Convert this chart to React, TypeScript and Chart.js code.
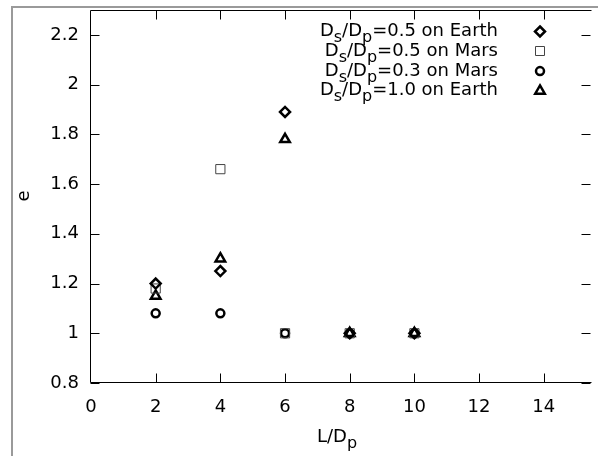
import React, { useEffect, useRef } from 'react';
import { Chart, registerables } from 'chart.js';

Chart.register(...registerables);

const xValues = [2, 4, 6, 8, 10];
const earth05 = [1.2, 1.25, 1.89, 1.0, 1.0];
const mars05 = [1.18, 1.66, 1.0, 1.0, 1.0];
const mars03 = [1.08, 1.08, 1.0, 1.0, 1.0];
const earth10 = [1.15, 1.3, 1.78, 1.0, 1.0];

const seriesSuffix = ['=0.5 on Earth', '=0.5 on Mars', '=0.3 on Mars', '=1.0 on Earth'];
const seriesMarker = ['rectRot', 'rect', 'circle', 'triangle'];

const xTicks = [0, 2, 4, 6, 8, 10, 12, 14];
const yTicks = [0.8, 1, 1.2, 1.4, 1.6, 1.8, 2, 2.2];

const FONT = '"DejaVu Sans", Verdana, sans-serif';
const TICK_SIZE = 18;
const LEGEND_SIZE = 18;

type Part = { t: string; sub?: boolean };

function drawRich(ctx: CanvasRenderingContext2D, parts: Part[], x: number, baseline: number, size: number, align: 'right' | 'center') {
  const subSize = Math.round(size * 0.9);
  const widths = parts.map((p) => {
    ctx.font = `${p.sub ? subSize : size}px ${FONT}`;
    return ctx.measureText(p.t).width;
  });
  const total = widths.reduce((a, b) => a + b, 0);
  let cx = align === 'right' ? x - total : x - total / 2;
  ctx.textAlign = 'left';
  ctx.textBaseline = 'alphabetic';
  ctx.fillStyle = '#000';
  parts.forEach((p, i) => {
    ctx.font = `${p.sub ? subSize : size}px ${FONT}`;
    ctx.fillText(p.t, cx, baseline + (p.sub ? 6 : 0));
    cx += widths[i];
  });
}

function drawMarker(ctx: CanvasRenderingContext2D, style: string, x: number, y: number) {
  ctx.save();
  ctx.strokeStyle = '#000';
  ctx.lineWidth = 2.5;
  ctx.beginPath();
  if (style === 'rectRot') {
    const r = 5;
    ctx.moveTo(x, y - r);
    ctx.lineTo(x + r, y);
    ctx.lineTo(x, y + r);
    ctx.lineTo(x - r, y);
    ctx.closePath();
  } else if (style === 'rect') {
    ctx.lineWidth = 1;
    ctx.strokeStyle = '#444';
    ctx.rect(Math.round(x) - 4.5, Math.round(y) - 4.5, 9, 9);
  } else if (style === 'circle') {
    ctx.arc(x, y, 4, 0, Math.PI * 2);
  } else {
    const r = 5.5;
    ctx.moveTo(x, y - r);
    ctx.lineTo(x + r * 0.866, y + r * 0.5);
    ctx.lineTo(x - r * 0.866, y + r * 0.5);
    ctx.closePath();
  }
  ctx.stroke();
  ctx.restore();
}

const framePlugin = {
  id: 'gnuFrame',
  beforeDraw(chart: any) {
    const ctx = chart.ctx as CanvasRenderingContext2D;
    ctx.save();
    ctx.fillStyle = '#fff';
    ctx.fillRect(0, 0, chart.width, chart.height);
    ctx.strokeStyle = '#9a9a9a';
    ctx.lineWidth = 2;
    ctx.beginPath();
    ctx.moveTo(12, chart.height + 5);
    ctx.lineTo(12, 7);
    ctx.lineTo(chart.width + 5, 7);
    ctx.stroke();
    ctx.restore();
  },
  afterDraw(chart: any) {
    const ctx = chart.ctx as CanvasRenderingContext2D;
    const a = chart.chartArea;
    const xs = chart.scales.x;
    const ys = chart.scales.y;
    const L = Math.round(a.left) - 0.5;
    const T = Math.round(a.top) + 0.5;
    const B = Math.round(a.bottom) - 0.5;
    const R = Math.round(a.right) - 0.5;
    ctx.save();
    ctx.strokeStyle = '#000';
    ctx.lineWidth = 1;
    ctx.beginPath();
    ctx.moveTo(R + 2, T);
    ctx.lineTo(L, T);
    ctx.lineTo(L, B);
    ctx.lineTo(R + 2, B);
    const tl = 9;
    xTicks.forEach((v) => {
      if (v === 0) return;
      const px = Math.round(xs.getPixelForValue(v)) + 0.5;
      ctx.moveTo(px, B);
      ctx.lineTo(px, B - tl);
      ctx.moveTo(px, T);
      ctx.lineTo(px, T + tl);
    });
    yTicks.forEach((v) => {
      const py = Math.round(ys.getPixelForValue(v)) + 0.5;
      ctx.moveTo(L, py);
      ctx.lineTo(L + tl, py);
      ctx.moveTo(R + 1, py);
      ctx.lineTo(R + 1 - tl, py);
    });
    ctx.stroke();

    // legend
    seriesSuffix.forEach((suf, i) => {
      const base = 36 + i * 19.8;
      drawRich(ctx, [{ t: 'D' }, { t: 's', sub: true }, { t: '/D' }, { t: 'p', sub: true }, { t: suf }], 498, base, LEGEND_SIZE, 'right');
      drawMarker(ctx, seriesMarker[i], 540, base - 4.5);
    });

    // x title
    drawRich(ctx, [{ t: 'L/D' }, { t: 'p', sub: true }], 337, 442, LEGEND_SIZE, 'center');

    // y title
    ctx.save();
    ctx.translate(29, 196);
    ctx.rotate(-Math.PI / 2);
    ctx.font = `${LEGEND_SIZE}px ${FONT}`;
    ctx.fillStyle = '#000';
    ctx.textAlign = 'center';
    ctx.textBaseline = 'alphabetic';
    ctx.fillText('e', 0, 0);
    ctx.restore();
    ctx.restore();
  },
};

const zeroPad = (s: any) => {
  s.paddingTop = 0;
  s.paddingBottom = 0;
  s.paddingLeft = 0;
  s.paddingRight = 0;
};

export default function App() {
  const ref = useRef<HTMLCanvasElement | null>(null);
  useEffect(() => {
    if (!ref.current) return;
    const mk = (d: number[]) => xValues.map((x, i) => ({ x, y: d[i] }));
    const base = { showLine: false, pointBorderColor: '#000', pointBackgroundColor: 'rgba(0,0,0,0)', pointBorderWidth: 2.5 };
    const chart = new Chart(ref.current, {
      type: 'scatter',
      data: {
        datasets: [
          { ...base, label: 'Ds/Dp' + seriesSuffix[0], data: mk(earth05), pointStyle: 'rectRot', pointRadius: 5 },
          { ...base, label: 'Ds/Dp' + seriesSuffix[1], data: mk(mars05), pointStyle: 'rect', pointRadius: 6.5, pointBorderWidth: 1, pointBorderColor: '#444' },
          { ...base, label: 'Ds/Dp' + seriesSuffix[2], data: mk(mars03), pointStyle: 'circle', pointRadius: 4 },
          { ...base, label: 'Ds/Dp' + seriesSuffix[3], data: mk(earth10), pointStyle: 'triangle', pointRadius: 5.5 },
        ],
      },
      options: {
        animation: false,
        responsive: false,
        maintainAspectRatio: false,
        layout: { padding: { top: 10, right: 0, left: 0, bottom: 0 } },
        plugins: { legend: { display: false }, tooltip: { enabled: false } },
        scales: {
          x: {
            type: 'linear',
            min: 0,
            max: 15.43,
            grid: { display: false, drawTicks: false },
            border: { display: false },
            ticks: { color: '#000', font: { family: FONT, size: TICK_SIZE }, padding: 14, autoSkip: false, maxRotation: 0 },
            afterBuildTicks: (s: any) => { s.ticks = xTicks.map((v) => ({ value: v })); },
            afterFit: (s: any) => { s.height = 73; zeroPad(s); },
          },
          y: {
            type: 'linear',
            min: 0.8,
            max: 2.3,
            grid: { display: false, drawTicks: false },
            border: { display: false },
            ticks: { color: '#000', font: { family: FONT, size: TICK_SIZE }, padding: 12, callback: (v: any) => String(Number(Number(v).toFixed(1))) },
            afterBuildTicks: (s: any) => { s.ticks = yTicks.map((v) => ({ value: v })); },
            afterFit: (s: any) => { s.width = 91; zeroPad(s); },
          },
        },
      } as any,
      plugins: [framePlugin],
    });
    return () => chart.destroy();
  }, []);
  return (
    <div style={{ position: 'absolute', left: 0, top: 0, width: 598, height: 456 }}>
      <canvas ref={ref} width={598} height={456} style={{ display: 'block' }} />
    </div>
  );
}
